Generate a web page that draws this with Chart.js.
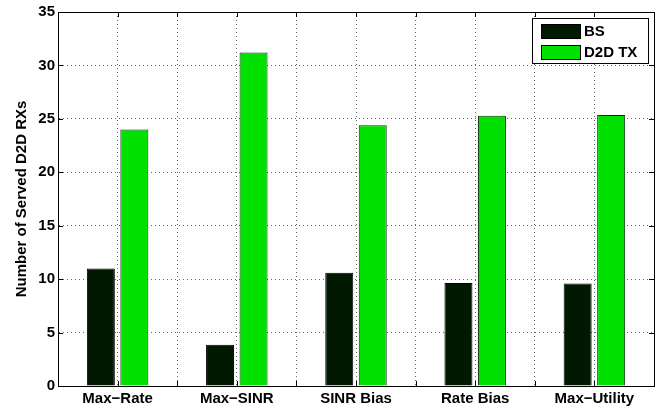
<!DOCTYPE html>
<html>
<head>
<meta charset="utf-8">
<script src="https://cdn.jsdelivr.net/npm/chart.js@4/dist/chart.umd.min.js"></script>
<style>
    html, body { margin: 0; padding: 0; background: #fff; }
</style>
</head>
<body>
<canvas id="canva" width="669" height="413"></canvas>
<script>
const categories = ['Max−Rate', 'Max−SINR', 'SINR Bias', 'Rate Bias', 'Max−Utility'];
const bsValues = [11.0, 3.85, 10.6, 9.65, 9.6];
const d2dValues = [24.0, 31.2, 24.4, 25.3, 25.35];
const yTicks = [0, 5, 10, 15, 20, 25, 30, 35];

const boldFont = (size) => ({ family: "'Liberation Sans', Arial, sans-serif", weight: 'bold', size: size });

// box around the axes + inward tick marks, like matlab
const frame = {
    id: 'frame',
    afterDraw(chart) {
        const ctx = chart.ctx;
        const a = chart.chartArea;
        const tl = 5;
        ctx.save();
        ctx.strokeStyle = '#000';
        ctx.lineWidth = 1;
        ctx.beginPath();
        chart.scales.y.ticks.forEach((t) => {
            const py = Math.round(chart.scales.y.getPixelForValue(t.value)) + 0.5;
            ctx.moveTo(a.left, py); ctx.lineTo(a.left + tl, py);
            ctx.moveTo(a.right, py); ctx.lineTo(a.right - tl, py);
        });
        const xs = chart.scales.x;
        for (let i = 0; i < categories.length; i++) {
            const c = xs.getPixelForValue(i);
            const half = xs.getPixelForValue(i + 0.5) - c;
            [c, c + half].forEach((px) => {
                px = Math.round(px) + 0.5;
                ctx.moveTo(px, a.bottom); ctx.lineTo(px, a.bottom - tl);
                ctx.moveTo(px, a.top); ctx.lineTo(px, a.top + tl);
            });
        }
        ctx.stroke();
        ctx.strokeRect(Math.round(a.left) + 0.5, Math.round(a.top) + 0.5, Math.round(a.right - a.left), Math.round(a.bottom - a.top));
        ctx.restore();
    },
};

// legend drawn inside the plot, top right, with a white box
const legendBox = {
    id: 'legendBox',
    afterDraw(chart) {
        const ctx = chart.ctx;
        const a = chart.chartArea;
        const w = 116, h = 45;
        const x = Math.round(a.right) - 6 - w;
        const y = Math.round(a.top) + 6;
        ctx.save();
        ctx.fillStyle = '#fff';
        ctx.fillRect(x, y, w, h);
        ctx.strokeStyle = '#000';
        ctx.lineWidth = 1;
        ctx.strokeRect(x + 0.5, y + 0.5, w, h);
        ctx.font = "bold 15px 'Liberation Sans', Arial, sans-serif";
        ctx.textBaseline = 'middle';
        chart.data.datasets.forEach((ds, i) => {
            const sy = y + 6 + i * 21;
            ctx.fillStyle = ds.backgroundColor;
            ctx.fillRect(x + 9, sy, 39, 14);
            ctx.strokeStyle = '#000';
            ctx.strokeRect(x + 9.5, sy + 0.5, 39, 14);
            ctx.fillStyle = '#000';
            ctx.fillText(ds.label, x + 52, sy + 8);
        });
        ctx.restore();
    },
};

new Chart(document.getElementById('canva').getContext('2d'), {
    type: 'bar',
    data: {
        labels: categories,
        datasets: [
            {
                label: 'BS',
                data: bsValues,
                backgroundColor: '#011801',
                borderColor: '#000',
                borderWidth: 1,
                categoryPercentage: 0.562,
                barPercentage: 0.836,
            },
            {
                label: 'D2D TX',
                data: d2dValues,
                backgroundColor: '#00e100',
                borderColor: '#0b300b',
                borderWidth: 1,
                categoryPercentage: 0.562,
                barPercentage: 0.836,
            },
        ],
    },
    options: {
        responsive: false,
        animation: false,
        devicePixelRatio: 1,
        layout: { padding: { top: 7, right: 15, left: 0, bottom: 0 } },
        plugins: {
            legend: { display: false },
            tooltip: { enabled: false },
        },
        scales: {
            x: {
                offset: true,
                grid: { offset: false, drawTicks: false, color: '#666', lineWidth: 1 },
                border: { color: '#000', width: 1, dash: [1, 3] },
                ticks: { font: boldFont(15), color: '#000', padding: 4, maxRotation: 0, autoSkip: false },
                afterFit(s) { s.height = 27; },
            },
            x2: {
                type: 'category',
                labels: categories,
                position: 'bottom',
                offset: true,
                grid: { offset: true, drawTicks: false, color: '#666', lineWidth: 1 },
                border: { display: false, dash: [1, 3] },
                ticks: { display: false },
                afterFit(s) { s.height = 0; },
            },
            y: {
                min: 0,
                max: 35,
                afterBuildTicks(s) { s.ticks = yTicks.map((v) => ({ value: v })); },
                grid: { drawTicks: false, color: '#666', lineWidth: 1 },
                border: { color: '#000', width: 1, dash: [1, 3] },
                ticks: { font: boldFont(15), color: '#000', padding: 3 },
                title: {
                    display: true,
                    text: 'Number of Served D2D RXs',
                    font: boldFont(15),
                    color: '#000',
                    padding: { top: 13, bottom: 0 },
                },
                afterFit(s) { s.width = 58; },
            },
        },
    },
    plugins: [frame, legendBox],
});
</script>
</body>
</html>
